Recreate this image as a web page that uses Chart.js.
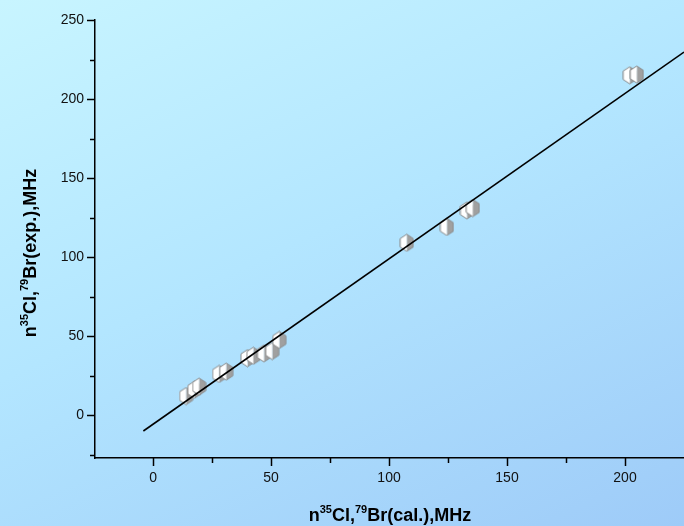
<!DOCTYPE html>
<html>
<head>
<meta charset="utf-8">
<script src="https://cdn.jsdelivr.net/npm/chart.js@4"></script>
<style>
  html, body { margin: 0; padding: 0; }
  body {
    width: 684px; height: 526px; overflow: hidden;
    background: linear-gradient(155deg, #c8f5ff 0%, #b3e6ff 45%, #9ecbf8 100%);
  }
  #wrap { position: relative; width: 684px; height: 526px; }
</style>
</head>
<body>
<div id="wrap"><canvas id="c" width="684" height="526"></canvas></div>
<script>
// ---- data ----
const calcValues = [14, 17.5, 19.5, 28, 31, 40, 42.5, 47, 50.5, 53.5, 107.5, 124.5, 133, 135.5, 202, 205];
const expValues  = [12, 16, 18, 26, 27.5, 36, 37.5, 39, 40.5, 47.5, 109, 119, 129.5, 131, 215, 215.5];
const fitX = [-4.1, 225];
const fitY = [-10.1, 229.7];
const xTickValues = [0, 25, 50, 75, 100, 125, 150, 175, 200];
const xTickLabels = ['0', '50', '100', '150', '200'];
const yTickValues = [-25, 0, 25, 50, 75, 100, 125, 150, 175, 200, 225, 250];
const yTickLabels = ['0', '50', '100', '150', '200', '250'];
const xTitle = [['n', false], ['35', true], ['Cl,', false], ['79', true], ['Br(cal.),MHz', false]];
const yTitle = [['n', false], ['35', true], ['Cl,', false], ['79', true], ['Br(exp.),MHz', false]];

// ---- marker ----
function makeMarker() {
  const w = 13, h = 17;
  const cv = document.createElement('canvas');
  cv.width = w + 2; cv.height = h + 2;
  const g = cv.getContext('2d');
  const ox = 1, oy = 1;
  const top = [ox + w / 2, oy], ur = [ox + w, oy + h * 0.25], lr = [ox + w, oy + h * 0.75],
        bot = [ox + w / 2, oy + h], ll = [ox, oy + h * 0.75], ul = [ox, oy + h * 0.25];
  g.beginPath(); g.moveTo(...top); g.lineTo(...ur); g.lineTo(...lr); g.lineTo(...bot); g.closePath();
  g.fillStyle = '#a0a0a0'; g.fill();
  g.beginPath(); g.moveTo(...top); g.lineTo(...ul); g.lineTo(...ll); g.lineTo(...bot); g.closePath();
  g.fillStyle = '#ffffff'; g.fill();
  g.beginPath(); g.moveTo(...top); g.lineTo(...ur); g.lineTo(...lr); g.lineTo(...bot); g.lineTo(...ll); g.lineTo(...ul); g.closePath();
  g.strokeStyle = '#8a8a8a'; g.lineWidth = 1; g.stroke();
  return cv;
}
const marker = makeMarker();

const font = '"Liberation Sans", Arial, sans-serif';

function drawRich(ctx, parts, size, supSize) {
  let total = 0;
  parts.forEach(([t, sup]) => {
    ctx.font = 'bold ' + (sup ? supSize : size) + 'px ' + font;
    total += ctx.measureText(t).width;
  });
  let x = -total / 2;
  parts.forEach(([t, sup]) => {
    ctx.font = 'bold ' + (sup ? supSize : size) + 'px ' + font;
    ctx.fillText(t, x, sup ? -size * 0.45 : 0);
    x += ctx.measureText(t).width;
  });
}

const axisPlugin = {
  id: 'axisExtras',
  afterDraw(chart) {
    const ctx = chart.ctx;
    const xs = chart.scales.x, ys = chart.scales.y;
    const ca = chart.chartArea;
    ctx.save();
    ctx.strokeStyle = '#000';
    ctx.lineWidth = 1.5;
    xTickValues.forEach(v => {
      const px = Math.round(xs.getPixelForValue(v)) + 0.5;
      const len = (v % 50 === 0) ? 8 : 5;
      ctx.beginPath(); ctx.moveTo(px, ca.bottom); ctx.lineTo(px, ca.bottom + len); ctx.stroke();
    });
    yTickValues.forEach(v => {
      const py = Math.round(ys.getPixelForValue(v)) + 0.5;
      const len = (v % 50 === 0) ? 8 : 5;
      ctx.beginPath(); ctx.moveTo(ca.left, py); ctx.lineTo(ca.left - len, py); ctx.stroke();
    });
    ctx.fillStyle = '#000';
    ctx.textBaseline = 'alphabetic';
    ctx.textAlign = 'left';
    ctx.save();
    ctx.translate(390, 521);
    drawRich(ctx, xTitle, 18, 11);
    ctx.restore();
    ctx.save();
    ctx.translate(36, 253);
    ctx.rotate(-Math.PI / 2);
    drawRich(ctx, yTitle, 18, 11);
    ctx.restore();
    ctx.restore();
  }
};

new Chart(document.getElementById('c'), {
  type: 'scatter',
  data: {
    datasets: [
      {
        label: 'fit',
        type: 'line',
        data: fitX.map((x, i) => ({ x, y: fitY[i] })),
        borderColor: '#000',
        borderWidth: 1.6,
        pointRadius: 0,
        fill: false,
        tension: 0
      },
      {
        label: 'data',
        data: calcValues.map((x, i) => ({ x, y: expValues[i] })),
        pointStyle: marker,
        pointRadius: 7
      }
    ]
  },
  plugins: [axisPlugin],
  options: {
    responsive: false,
    animation: false,
    devicePixelRatio: 1,
    layout: { autoPadding: false, padding: { left: 0, top: 20, right: 0, bottom: 0 } },
    plugins: { legend: { display: false }, tooltip: { enabled: false } },
    scales: {
      x: {
        type: 'linear',
        min: -24.6, max: 225,
        afterBuildTicks: s => { s.ticks = xTickValues.map(v => ({ value: v })); },
        afterFit: s => { s.height = 68; },
        ticks: {
          callback: v => (xTickLabels.includes(String(v)) ? String(v) : ''),
          font: { family: font, size: 14 },
          color: '#111',
          padding: 4,
          maxRotation: 0,
          autoSkip: false
        },
        grid: { display: true, drawOnChartArea: false, drawTicks: true, tickLength: 8, tickColor: 'rgba(0,0,0,0)' },
        border: { display: true, color: '#000', width: 1.5 }
      },
      y: {
        type: 'linear',
        min: -27.2, max: 250,
        afterBuildTicks: s => { s.ticks = yTickValues.map(v => ({ value: v })); },
        afterFit: s => { s.width = 95; },
        ticks: {
          callback: v => (yTickLabels.includes(String(v)) ? String(v) : ''),
          font: { family: font, size: 14 },
          color: '#111',
          padding: 3,
          autoSkip: false
        },
        grid: { display: true, drawOnChartArea: false, drawTicks: true, tickLength: 8, tickColor: 'rgba(0,0,0,0)' },
        border: { display: true, color: '#000', width: 1.5 }
      }
    }
  }
});
</script>
</body>
</html>
